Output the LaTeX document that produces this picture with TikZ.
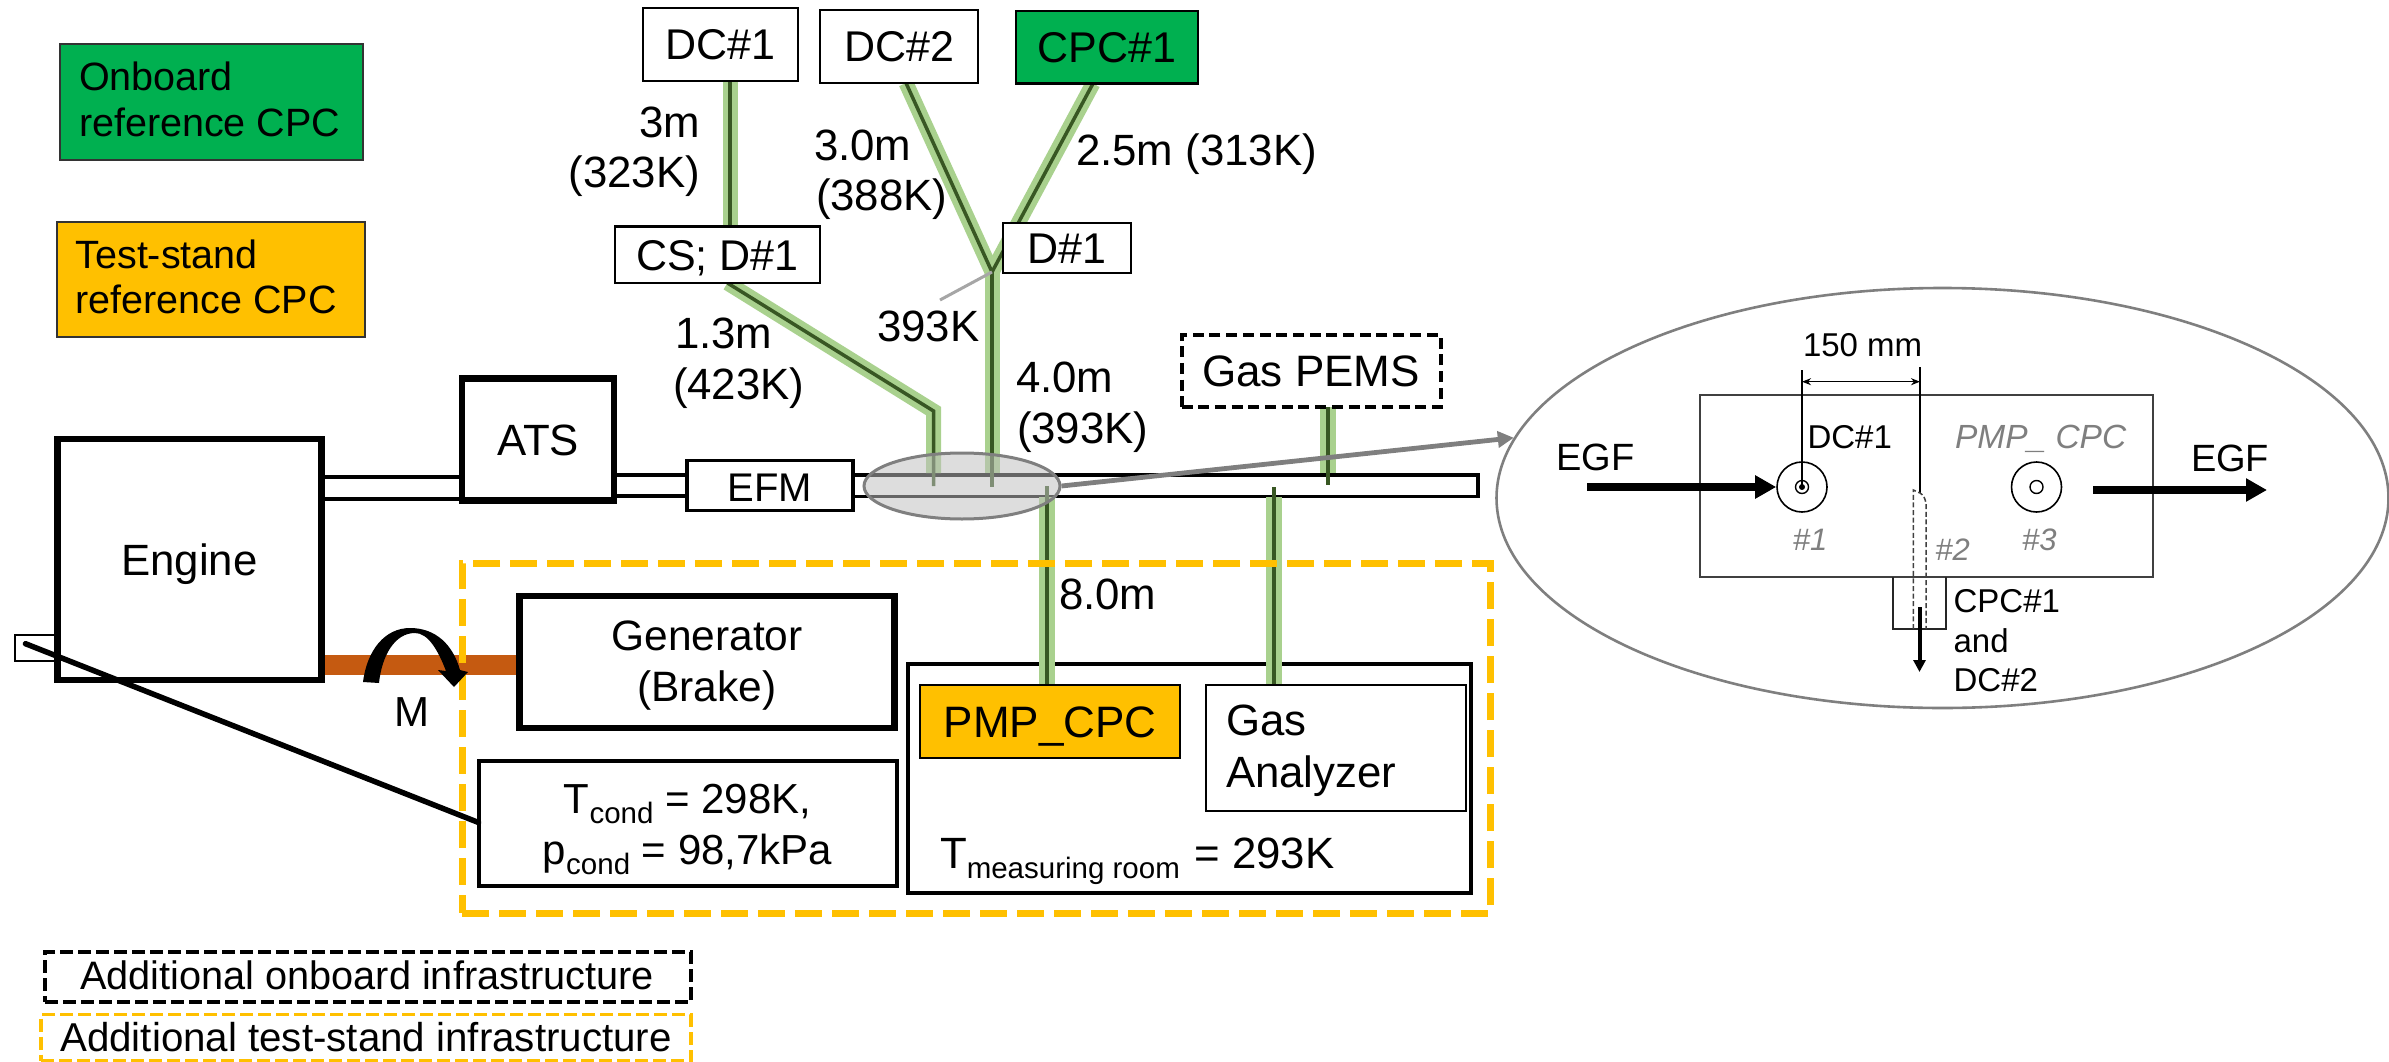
\documentclass[tikz,border=0pt]{standalone}
\usepackage{fontspec}
\setmainfont{Liberation Sans}
\usetikzlibrary{shapes.geometric,arrows.meta}
\pgfdeclarelayer{under}
\pgfdeclarelayer{tubes}
\pgfsetlayers{under,tubes,main}
\definecolor{tubegreen}{HTML}{A9D18E}
\definecolor{tubedark}{HTML}{385723}
\definecolor{cpcgreen}{HTML}{00B050}
\definecolor{cpcorange}{HTML}{FFC000}
\definecolor{shaftbrown}{HTML}{C55A11}
\definecolor{midgrey}{HTML}{7F7F7F}
\newcommand{\fs}[1]{\fontsize{#1}{#1}\selectfont}
\newcommand{\lowsub}[1]{\raisebox{-10pt}{\fs{29.5}#1}}
\tikzset{
  box/.style={draw=black,fill=white,line width=2.6pt,inner sep=0pt,outer sep=0pt,text height=31pt,text depth=0pt,font=\fs{43},align=center},
  heavy/.style={box,line width=6.5pt},
  lbl/.style={inner sep=0pt,outer sep=0pt,anchor=base west,font=\fs{43.8},align=left},
  lblc/.style={lbl,anchor=base,align=center},
  small/.style={lbl,font=\fs{33}},
  greyital/.style={small,font=\fs{31}\itshape,text=midgrey},
  tubeg/.style={draw=tubegreen,line width=15pt,line join=miter},
  tubed/.style={draw=tubedark,line width=3.5pt,line join=miter},
  pipe/.style={draw=black,line width=3.6pt},
  blackdash/.style={draw=black,dash pattern=on 13pt off 5pt,line width=3.6pt},
}
\begin{document}
\begin{tikzpicture}[x=1pt,y=-1pt]
\useasboundingbox (0,0) rectangle (2389,1062);
% legend colour boxes
\node[draw=black!80,fill=cpcgreen,line width=1.6pt,minimum width=303pt,minimum height=116pt,inner sep=0pt] (legA) at (211.5,102) {};
\node[draw=black!80,fill=cpcorange,line width=1.6pt,minimum width=308pt,minimum height=115pt,inner sep=0pt] (legB) at (211,279.5) {};
\node[lbl,font=\fs{39.5}] (legAa) at (79,90.5) {Onboard};
\node[lbl,font=\fs{39.5}] (legAb) at (79,136) {reference CPC};
\node[lbl,font=\fs{39.5}] (legBa) at (75.5,268) {Test-stand};
\node[lbl,font=\fs{39.5}] (legBb) at (75.5,313) {reference CPC};
% sample boxes
\node[box,minimum width=155pt,minimum height=73pt] (dc1) at (720.5,44.5) {DC\#1};
\node[box,minimum width=158pt,minimum height=73pt] (dc2) at (899,46.5) {DC\#2};
\node[box,fill=cpcgreen,minimum width=182pt,minimum height=72.5pt] (cpc1) at (1107,47.25) {CPC\#1};
\node[box,minimum width=205pt,minimum height=56.5pt] (cs) at (717.5,254.75) {CS; D\#1};
\node[box,minimum width=128pt,minimum height=50pt] (d1) at (1067,248) {D\#1};
\node[box,draw=black,dash pattern=on 11pt off 5.7pt,line width=4pt,font=\fs{44},minimum width=259pt,minimum height=72pt] (pems) at (1311,371) {Gas PEMS};
% engine line
\node[heavy,font=\fs{43.8},minimum width=264pt,minimum height=241pt] (engine) at (189.5,559.5) {Engine};
\node[heavy,font=\fs{43.8},minimum width=152pt,minimum height=122pt] (ats) at (538,439.5) {ATS};
\node[box,line width=3.6pt,font=\fs{40},minimum width=166pt,minimum height=50pt] (efm) at (770,485.5) {EFM};
\coordinate (pipeend) at (1478,486);
\begin{pgfonlayer}{under}
\draw[pipe] (engine.east |- 0,477) -- (ats.west |- 0,477);
\draw[pipe] (engine.east |- 0,499) -- (ats.west |- 0,499);
\draw[pipe] (ats.east |- 0,475) -- (efm.west |- 0,475);
\draw[pipe] (ats.east |- 0,496) -- (efm.west |- 0,496);
\draw[pipe,line join=miter] (efm.east |- 0,475) -- (pipeend |- 0,475) -- (pipeend |- 0,496.5) -- (efm.east |- 0,496.5);
\end{pgfonlayer}
% generator and conditions
\node[heavy,minimum width=375pt,minimum height=132pt,text height=0pt] (gen) at (707,662) {};
\node[lblc,font=\fs{42.5}] (gentxt) at (707,650) {Generator};
\node[lblc,font=\fs{42.5}] (gentxtb) at (707,701) {(Brake)};
\node[box,line width=4pt,minimum width=418pt,minimum height=124.5pt,text height=0pt] (cond) at (687.5,823.25) {};
\node[lblc,font=\fs{42}] (condA) at (687.5,813) {T\lowsub{cond} = 298K,};
\node[lblc,font=\fs{42}] (condB) at (687.5,864) {p\lowsub{cond} = 98,7kPa};
% measuring room
\begin{pgfonlayer}{under}
\node[box,line width=4pt,minimum width=563pt,minimum height=229pt,text height=0pt] (room) at (1189.5,778.5) {};
\end{pgfonlayer}
\node[box,fill=cpcorange,minimum width=260pt,minimum height=73pt,font=\fs{44}] (pmp) at (1050,721.5) {PMP\_CPC};
\node[box,minimum width=260pt,minimum height=126pt,text height=0pt] (gas) at (1336,748) {};
\node[lbl] (gasA) at (1226,735) {Gas};
\node[lbl] (gasB) at (1226,787) {Analyzer};
\node[lbl] (roomtxt) at (940,868) {T\lowsub{measuring room}\hspace{2.5pt} = 293K};
% tubes
\coordinate (csbend) at (933.5,411);
\coordinate (vjoin) at (992,272);
\coordinate (ptop) at (0,473);
\begin{pgfonlayer}{tubes}
\fill[shaftbrown] (engine.east |- 0,655) rectangle (gen.west |- 0,675);
\foreach \st in {tubeg,tubed}{
 \draw[\st] ([xshift=9.5pt]dc1.south) -- ([xshift=12.5pt]cs.north);
 \draw[\st] ([xshift=7pt]dc2.south) -- (vjoin);
 \draw[\st] ([xshift=-14pt]cpc1.south) -- (vjoin);
}
\draw[tubeg] ([xshift=10pt]cs.south) -- (csbend) -- (csbend |- ptop);
\draw[tubed] ([xshift=10pt]cs.south) -- (csbend) -- ++(0,75);
\draw[tubeg] (vjoin) -- (vjoin |- ptop);
\draw[tubed] (vjoin) -- ++(0,215);
\draw[tubeg,line width=16pt] (pems.south -| 1328,0) -- (1328,473);
\draw[tubed] (pems.south -| 1328,0) -- (1328,485);
\draw[tubeg,line width=16pt] (1047,497) -- (pmp.north -| 1047,0);
\draw[tubed] (1047,486) -- (pmp.north -| 1047,0);
\draw[tubeg,line width=16pt] (1274,497) -- (gas.north -| 1274,0);
\draw[tubed] (1274,487) -- (gas.north -| 1274,0);
\end{pgfonlayer}
% tube labels
\node[lbl,anchor=base east] (l3m) at (700,137) {3m};
\node[lbl,anchor=base east] (l323) at (700,187.5) {(323K)};
\node[lbl] (l30) at (814,160) {3.0m};
\node[lbl] (l388) at (816,210) {(388K)};
\node[lbl] (l25) at (1076,165) {2.5m (313K)};
\node[lbl] (l393a) at (877,341) {393K};
\draw[draw=black!35,line width=3pt] (940,300) -- (vjoin);
\node[lbl] (l13) at (675,348) {1.3m};
\node[lbl] (l423) at (673,399) {(423K)};
\node[lbl] (l40) at (1016,392) {4.0m};
\node[lbl] (l393b) at (1017,443.5) {(393K)};
\node[lbl] (l80) at (1059,609) {8.0m};
% sensor
\node[draw=black,fill=white,line width=2.8pt,minimum width=40pt,minimum height=26pt,inner sep=0pt] (sensor) at (35,648) {};
\draw[draw=black,line width=5.5pt,line cap=round] (25.5,643.7) coordinate (sens) -- (cond.west |- 0,822.5);
% frame
\node[draw=cpcorange,dash pattern=on 27pt off 10pt,line width=7pt,minimum width=1028pt,minimum height=350pt,inner sep=0pt] (frame) at (976,738) {};
% torque arrow
\fill[black] (363,682) .. controls (367,650) and (385,628) .. (410,628)
  .. controls (436,628) and (453,645) .. (460,670) -- (468,672) -- (454,687) -- (438,670) -- (446,671)
  .. controls (438,650) and (428,633) .. (415,633)
  .. controls (395,633) and (382,655) .. (379,683) -- cycle;
\node[lblc,font=\fs{42}] (mtxt) at (412,726) {M};
% legends
\node[box,blackdash,minimum width=646pt,minimum height=50pt,text height=0pt,fill=none] (legC) at (368,977) {};
\node[lblc,font=\fs{39.7}] (legCt) at (367,989) {Additional onboard infrastructure};
\node[draw=cpcorange,dash pattern=on 13pt off 5pt,line width=3.6pt,minimum width=650pt,minimum height=46pt,inner sep=0pt] (legD) at (366,1037.5) {};
\node[lblc,font=\fs{40.3}] (legDt) at (366,1051) {Additional test-stand infrastructure};
% big ellipse
\node[ellipse,draw=midgrey,fill=white,line width=2.6pt,minimum width=892pt,minimum height=420pt,inner sep=0pt] (big) at (1942.5,498) {};
\node[draw=black!75,line width=2pt,minimum width=452.5pt,minimum height=182pt,inner sep=0pt] (plate) at (1926.25,486) {};
\draw[draw=black!85,line width=1.8pt] (1893,577) -- (1893,629) -- (1946,629) -- (1946,577);
\node[circle,draw=black,line width=1.6pt,minimum size=50pt,inner sep=0pt] (c1) at (1802,487) {};
\node[circle,draw=black,line width=1.4pt,minimum size=13pt,inner sep=0pt] (c1i) at (1802,487) {};
\node[circle,fill=black,minimum size=6pt,inner sep=0pt] (c1d) at (1802,487) {};
\node[circle,draw=black,line width=1.6pt,minimum size=50pt,inner sep=0pt] (c3) at (2036.5,487) {};
\node[circle,draw=black,line width=1.4pt,minimum size=13pt,inner sep=0pt] (c3i) at (2036.5,487) {};
\coordinate (pb) at (1920,493);
\draw[line width=2pt] (1802,370) coordinate (pa) -- (c1d.center);
\draw[line width=2pt] (1920,367) -- (pb);
\draw[{Stealth[length=9pt,width=7pt]}-{Stealth[length=9pt,width=7pt]},line width=1.5pt] (pa |- 0,381.7) -- (pb |- 0,381.7);
\node[small,anchor=base] (d150) at (1862.6,356.7) {150 mm};
\node[small] (dcl) at (1807.5,448) {DC\#1};
\node[small,text=midgrey,font=\fs{33.5}\itshape] (pcl) at (1955,448) {PMP\_ CPC};
\node[lbl,font=\fs{38}] (egf1) at (1556.5,470.7) {EGF};
\node[lbl,font=\fs{38}] (egf2) at (2191,471.7) {EGF};
\draw[line width=7.5pt,-{Triangle[length=21pt,width=22pt]}] (1587,487) -- (c1.west);
\draw[line width=7.5pt,-{Triangle[length=21pt,width=22pt]}] (2093,490) -- (2267,490);
\node[greyital,anchor=base] (n1) at (1810,550.7) {\#1};
\node[greyital,anchor=base] (n2) at (1952.5,560) {\#2};
\node[greyital,anchor=base] (n3) at (2039.4,550) {\#3};
\draw[draw=black!75,line width=1.5pt,dash pattern=on 5pt off 2.6pt] (1913.3,629) -- (1913.3,490) -- (pb) .. controls (1924,496) .. (1926,503) -- (1926,629);
\draw[line width=4pt,-{Triangle[length=12pt,width=12pt]}] (1919.5,607) -- (1919.5,672);
\node[small] (cA) at (1953.6,612.7) {CPC\#1};
\node[small] (cB) at (1953.6,652.7) {and};
\node[small] (cC) at (1953.6,691.7) {DC\#2};
% magnifier
\node[ellipse,draw=midgrey,line width=3pt,fill=black!25,fill opacity=.53,minimum width=196pt,minimum height=66pt,inner sep=0pt] (spot) at (962,486) {};
\draw[draw=midgrey,line width=4.8pt,-{Triangle[length=16pt,width=16pt]}] (spot.east) -- (big.172);
\end{tikzpicture}
\end{document}
